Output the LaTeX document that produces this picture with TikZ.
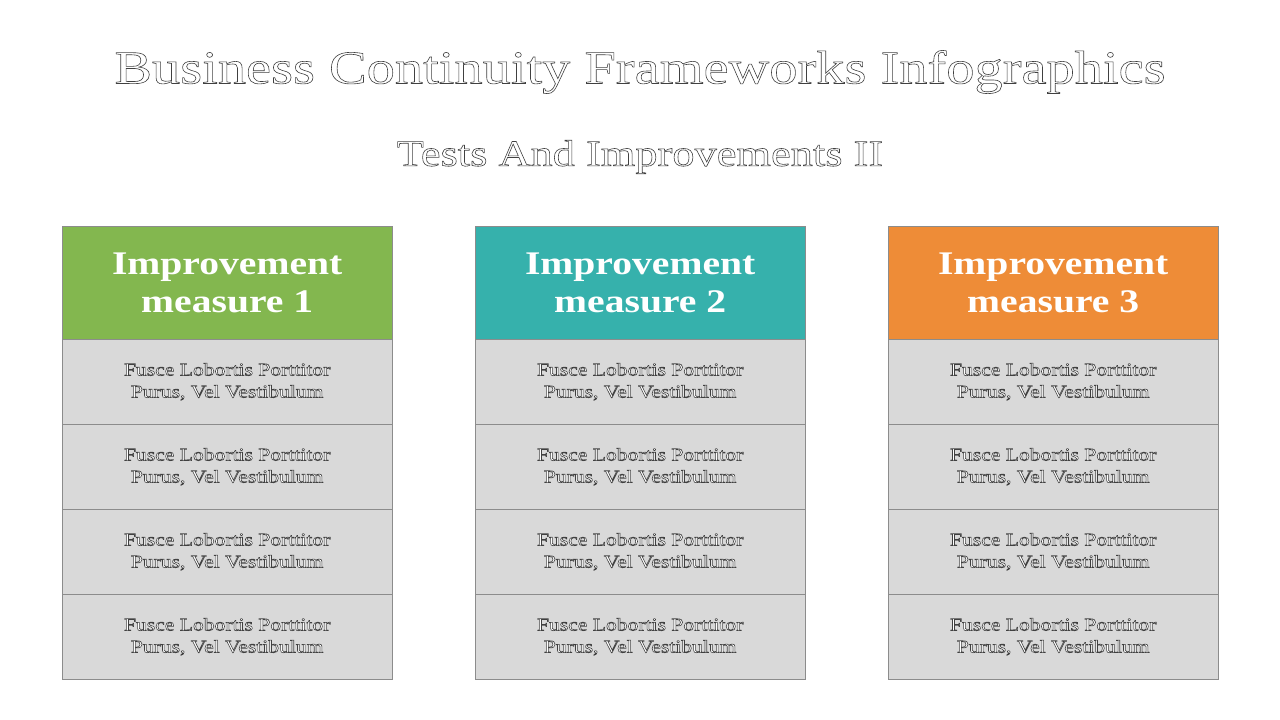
\documentclass[tikz,border=0pt]{standalone}
\usepackage{fontspec}
\setmainfont[FakeStretch=1.2]{Liberation Serif}
\newcommand{\outl}[1]{\special{pdf:literal direct 2 Tr 0.6 w 0.25 0.25 0.25 RG}#1\special{pdf:literal direct 0 Tr}}
\definecolor{cgreen}{HTML}{83B74F}
\definecolor{cteal}{HTML}{36B1AC}
\definecolor{corange}{HTML}{EE8C37}
\definecolor{ccell}{HTML}{D9D9D9}
\definecolor{cline}{HTML}{8C8C8C}
\begin{document}
\begin{tikzpicture}[x=1pt,y=-1pt,
  head/.style={draw=cline,minimum width=330pt,minimum height=113pt,inner sep=0pt,anchor=north west,text=white,font=\fontsize{33}{38}\selectfont\bfseries,align=center},
  cell/.style={draw=cline,fill=ccell,minimum width=330pt,minimum height=85pt,inner sep=0pt,anchor=north west,text=white,font=\fontsize{18}{22}\selectfont,align=center}]
\useasboundingbox (0,0) rectangle (1280,720);
\node[text=white] (title) at (640,72) {\fontsize{47}{50}\selectfont\outl{Business Continuity Frameworks Infographics}};
\node[text=white] (sub) at (640,157) {\fontsize{37}{40}\selectfont\outl{Tests And Improvements II}};
\foreach \x/\c/\n in {62/cgreen/1,475/cteal/2,888/corange/3}{
  \node[head,fill=\c] (h\n) at (\x,226) {Improvement\\measure \n};
  \foreach \r in {0,1,2,3}{
    \node[cell] (c\n\r) at (\x,339+85*\r) {\outl{Fusce Lobortis Porttitor}\\\outl{Purus, Vel Vestibulum}};
  }
}
\end{tikzpicture}
\end{document}
